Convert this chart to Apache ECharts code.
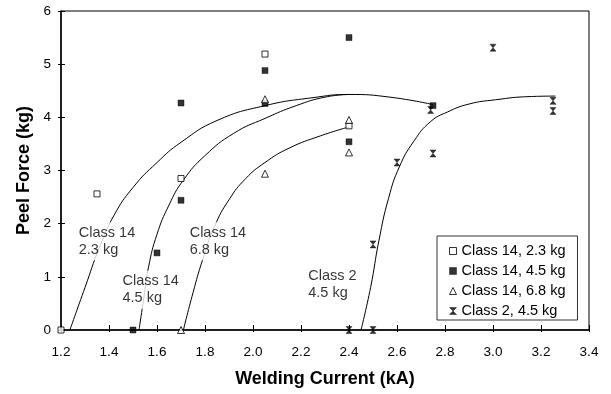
<!DOCTYPE html>
<html>
<head>
<meta charset="utf-8">
<script src="https://cdn.jsdelivr.net/npm/echarts@6/dist/echarts.min.js"></script>
<style>html,body{margin:0;padding:0;background:#fff}#c{width:611px;height:394px}</style>
</head>
<body>
<div id="c"></div>
<script>
// ---- data ----
const xTicks = [1.2, 1.4, 1.6, 1.8, 2.0, 2.2, 2.4, 2.6, 2.8, 3.0, 3.2, 3.4];
const yTicks = [0, 1, 2, 3, 4, 5, 6];
const seriesNames = ['Class 14, 2.3 kg', 'Class 14, 4.5 kg', 'Class 14, 6.8 kg', 'Class 2, 4.5 kg'];

const pts14_23 = [[1.2, 0], [1.35, 2.56], [1.7, 2.85], [2.05, 5.19], [2.4, 3.84]];
const pts14_45 = [[1.5, 0], [1.6, 1.45], [1.7, 2.44], [1.7, 4.27], [2.05, 4.88], [2.05, 4.26], [2.4, 5.5], [2.4, 3.54], [2.75, 4.22]];
const pts14_68 = [[1.7, 0], [2.05, 2.94], [2.05, 4.34], [2.4, 3.95], [2.4, 3.34]];
const pts2_45  = [[2.4, 0], [2.5, 0], [2.5, 1.61], [2.6, 3.15], [2.75, 3.32], [2.74, 4.14], [3.0, 5.31], [3.25, 4.31], [3.25, 4.12]];

const fit14_23 = [[1.237, 0], [1.30, 0.8], [1.36, 1.55], [1.42, 2.15], [1.50, 2.68], [1.60, 3.15], [1.70, 3.53], [1.85, 3.94], [2.05, 4.22], [2.25, 4.37], [2.40, 4.43], [2.57, 4.38], [2.75, 4.24]];
const fit14_45 = [[1.525, 0], [1.545, 0.6], [1.565, 1.19], [1.60, 1.8], [1.65, 2.35], [1.71, 2.82], [1.80, 3.28], [1.92, 3.70], [2.05, 3.98], [2.18, 4.22], [2.30, 4.38], [2.40, 4.43]];
const fit14_68 = [[1.71, 0], [1.75, 0.7], [1.79, 1.32], [1.84, 1.95], [1.90, 2.45], [1.97, 2.85], [2.05, 3.15], [2.15, 3.42], [2.28, 3.65], [2.40, 3.82]];
const fit2_45  = [[2.45, 0], [2.49, 0.8], [2.525, 1.69], [2.565, 2.48], [2.61, 3.07], [2.67, 3.55], [2.74, 3.92], [2.81, 4.10], [2.90, 4.25], [3.01, 4.33], [3.15, 4.39], [3.26, 4.40]];

const curveLabels = [
  [1.272, 1.66, 'Class 14\n2.3 kg'],
  [1.454, 0.75, 'Class 14\n4.5 kg'],
  [1.734, 1.66, 'Class 14\n6.8 kg'],
  [2.228, 0.85, 'Class 2\n4.5 kg']
];

// ---- chart ----
const FONT = 'Liberation Sans, Arial, sans-serif';
const hourglass = 'path://M0,0L10,0L5,5L10,10L0,10L5,5Z';
const symbols = [
  {symbol: 'rect', size: 6, style: {color: '#fff', borderColor: '#000', borderWidth: 1}},
  {symbol: 'rect', size: 6, style: {color: '#000', borderColor: '#000', borderWidth: 0.5}},
  {symbol: 'triangle', size: 7, style: {color: '#fff', borderColor: '#000', borderWidth: 1}},
  {symbol: hourglass, size: [6, 7], style: {color: '#000', borderColor: '#000', borderWidth: 0.5}}
];
const ptSets = [pts14_23, pts14_45, pts14_68, pts2_45];
const fits = [fit14_23, fit14_45, fit14_68, fit2_45];

const xMin = xTicks[0], xMax = xTicks[xTicks.length - 1];
const yMin = yTicks[0], yMax = yTicks[yTicks.length - 1];

const series = [];
fits.forEach((f, i) => series.push({
  type: 'line', data: f, smooth: 0.5, showSymbol: false, symbol: 'none',
  lineStyle: {color: '#000', width: 1}, z: 2, silent: true, legendHoverLink: false,
  name: 'fit' + i
}));
series.push({
  type: 'scatter', name: 'labels', data: curveLabels, symbolSize: 1,
  itemStyle: {color: 'rgba(0,0,0,0)'}, z: 3,
  label: {
    show: true, position: [0, 0], align: 'left', verticalAlign: 'middle',
    formatter: p => p.data[2], color: '#000', fontFamily: FONT, fontSize: 14.5,
    lineHeight: 17, backgroundColor: '#fff', padding: [2, 2, 2, 1]
  }
});
ptSets.forEach((d, i) => series.push({
  type: 'scatter', name: seriesNames[i], data: d,
  symbol: symbols[i].symbol, symbolSize: symbols[i].size,
  itemStyle: symbols[i].style, z: 5
}));

const chart = echarts.init(document.getElementById('c'), null, {renderer: 'canvas'});
chart.setOption({
  animation: false,
  backgroundColor: '#fff',
  textStyle: {fontFamily: FONT},
  grid: {left: 61, right: 22, top: 11, bottom: 64, show: true, borderColor: '#000', borderWidth: 1, backgroundColor: 'transparent'},
  xAxis: [{
    type: 'value', min: xMin, max: xMax, interval: 0.2,
    name: 'Welding Current (kA)', nameLocation: 'middle', nameGap: 40,
    nameTextStyle: {fontFamily: FONT, fontSize: 18, fontWeight: 'bold', color: '#000'},
    axisLine: {show: true, lineStyle: {color: '#000', width: 1.5}},
    axisTick: {show: true, inside: true, length: 5, lineStyle: {color: '#000'}},
    axisLabel: {fontFamily: FONT, fontSize: 13.5, color: '#000', margin: 15, formatter: v => v.toFixed(1)},
    splitLine: {show: false}
  }, {
    type: 'value', min: xMin, max: xMax, interval: 0.2, position: 'bottom',
    axisLine: {show: false}, axisLabel: {show: false},
    axisTick: {show: true, inside: false, length: 2, lineStyle: {color: '#000'}},
    splitLine: {show: false}
  }],
  yAxis: [{
    type: 'value', min: yMin, max: yMax, interval: 1,
    name: 'Peel Force (kg)', nameLocation: 'middle', nameGap: 28,
    nameTextStyle: {fontFamily: FONT, fontSize: 18, fontWeight: 'bold', color: '#000'},
    axisLine: {show: true, lineStyle: {color: '#000', width: 1.5}},
    axisTick: {show: true, inside: true, length: 4, lineStyle: {color: '#000'}},
    axisLabel: {fontFamily: FONT, fontSize: 13.5, color: '#000', margin: 10},
    splitLine: {show: false}
  }, {
    type: 'value', min: yMin, max: yMax, interval: 1, position: 'left',
    axisLine: {show: false}, axisLabel: {show: false},
    axisTick: {show: true, inside: false, length: 3, lineStyle: {color: '#000'}},
    splitLine: {show: false}
  }],
  legend: {
    orient: 'vertical', left: 437, top: 236,
    data: seriesNames.map((n, i) => ({name: n, icon: symbols[i].symbol, itemStyle: symbols[i].style})),
    itemWidth: 7, itemHeight: 7, itemGap: 4,
    textStyle: {fontFamily: FONT, fontSize: 14.5, color: '#000', lineHeight: 16},
    padding: [7, 12, 1, 12],
    backgroundColor: '#fff', borderColor: '#333', borderWidth: 1, borderRadius: 0,
    selectedMode: false
  },
  series: series
});
</script>
</body>
</html>
